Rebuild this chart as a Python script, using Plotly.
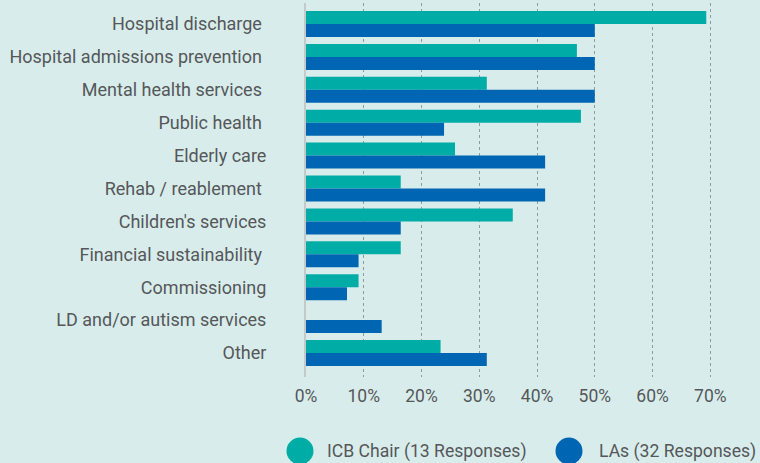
import plotly.graph_objects as go

# Survey categories (top to bottom) and share of respondents (%)
categories = [
    "Hospital discharge",
    "Hospital admissions prevention",
    "Mental health services",
    "Public health",
    "Elderly care",
    "Rehab / reablement",
    "Children's services",
    "Financial sustainability",
    "Commissioning",
    "LD and/or autism services",
    "Other",
]
# Some source labels carry a trailing space
trailing_space = [True, True, True, True, False, True, False, True, False, False, False]
labels = [c + ("\u00a0" if t else "") for c, t in zip(categories, trailing_space)]

icb_chair = [69.3, 46.9, 31.3, 47.6, 25.8, 16.4, 35.8, 16.4, 9.1, 0, 23.3]
las = [50.0, 50.0, 50.0, 23.9, 41.4, 41.4, 16.4, 9.1, 7.1, 13.1, 31.3]

x_ticks = [0, 10, 20, 30, 40, 50, 60, 70]
x_ticklabels = [f"{v}%" for v in x_ticks]

series_names = ["ICB Chair (13 Responses)", "LAs (32 Responses)"]
TEAL = "#00ADA6"
BLUE = "#0066B3"
BG = "#D8EDEB"
TEXT = "#55575A"
FONT = "Roboto"

fig = go.Figure()
fig.add_trace(go.Bar(y=labels, x=icb_chair, orientation="h", name=series_names[0],
                     marker=dict(color=TEAL, line=dict(width=0)), showlegend=False))
fig.add_trace(go.Bar(y=labels, x=las, orientation="h", name=series_names[1],
                     marker=dict(color=BLUE, line=dict(width=0)), showlegend=False))

# Legend drawn as large circles with text beside them
legend_items = [(300, 325, TEAL, series_names[0]), (569, 597, BLUE, series_names[1])]
shapes = []
annotations = []
for cx, tx, col, name in legend_items:
    shapes.append(dict(type="circle", xref="paper", yref="paper",
                       xsizemode="pixel", ysizemode="pixel",
                       xanchor=(cx - 306) / 454, yanchor=-((451 - 377) / 374),
                       x0=-13.5, x1=13.5, y0=-13.5, y1=13.5,
                       fillcolor=col, line=dict(width=0)))
    annotations.append(dict(text=name, xref="paper", yref="paper",
                            x=(tx - 306) / 454, y=-((452 - 377) / 374),
                            xanchor="left", yanchor="middle", showarrow=False,
                            font=dict(family=FONT, size=17.6, color=TEXT)))

fig.update_layout(
    width=760, height=463,
    margin=dict(l=306, r=0, t=3, b=86),
    paper_bgcolor=BG, plot_bgcolor=BG,
    barmode="group", bargap=0.21, bargroupgap=0,
    font=dict(family=FONT, size=18, color=TEXT),
    shapes=shapes, annotations=annotations,
    showlegend=False,
)
fig.update_xaxes(
    range=[0, 78.6], tickvals=x_ticks, ticktext=x_ticklabels,
    showgrid=True, gridcolor="#8A9E9F", griddash="3px,3px", gridwidth=1,
    zeroline=False, showline=False, ticks="", ticklabelstandoff=6,
    tickfont=dict(family=FONT, size=17.5, color=TEXT),
)
fig.update_yaxes(
    categoryorder="array", categoryarray=labels,
    range=[10.729, -0.638],
    showgrid=False, zeroline=False, ticks="",
    showline=True, linecolor="#C4CACA", linewidth=2,
    ticklabelstandoff=34,
    tickfont=dict(family=FONT, size=18, color=TEXT),
)

fig.write_html("out.html")
